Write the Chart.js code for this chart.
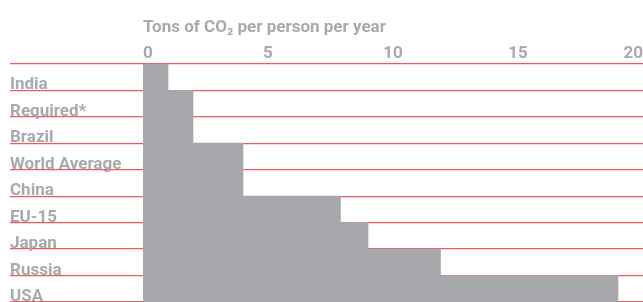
<!DOCTYPE html>
<html>
<head>
<meta charset="utf-8">
<script src="https://cdn.jsdelivr.net/npm/chart.js@4"></script>
<style>
  html, body { margin: 0; padding: 0; background: #fff; }
  #wrap { width: 643px; height: 302px; }
</style>
</head>
<body>
<div id="wrap"><canvas id="chartCO2"></canvas></div>
<script>
// ─────────────────────────────────────────────────────────────────────────────
// DATOS
// ─────────────────────────────────────────────────────────────────────────────
const paises    = ['India', 'Required*', 'Brazil', 'World Average', 'China', 'EU-15', 'Japan', 'Russia', 'USA'];
const toneladas = [1.0, 2.0, 2.0, 4.0, 4.0, 7.9, 9.0, 11.9, 19.0];
const ticksX    = [0, 5, 10, 15, 20];
const tituloX   = 'Tons of CO\u2082 per person per year';

const GRIS   = '#a7a9ac';
const ROJO   = '#ef5b60';
const FUENTE = { family: 'Roboto, "Liberation Sans", sans-serif', size: 17, weight: 'bold' };

// ─────────────────────────────────────────────────────────────────────────────
// GRÁFICO
// ─────────────────────────────────────────────────────────────────────────────
const ctx = document.getElementById('chartCO2').getContext('2d');

new Chart(ctx, {
    type: 'bar',
    data: {
        labels: paises,
        datasets: [{
            data: toneladas,
            backgroundColor: '#a7a8ab',
            borderWidth: 0,
            barPercentage: 1,
            categoryPercentage: 1
        }]
    },
    options: {
        indexAxis: 'y',
        responsive: true,
        maintainAspectRatio: false,
        animation: false,
        layout: { padding: { left: 10, top: 18, right: 0, bottom: 0 } },
        plugins: {
            legend: { display: false },
            tooltip: { enabled: false }
        },
        scales: {
            x: {
                position: 'top',
                min: ticksX[0],
                max: ticksX[ticksX.length - 1],
                afterBuildTicks: function (scale) {
                    scale.ticks = ticksX.map(function (v) { return { value: v }; });
                },
                afterFit: function (scale) {
                    scale.paddingLeft = 0;
                    scale.paddingRight = 0;
                },
                grid: { display: false, drawTicks: false },
                border: { display: false },
                ticks: {
                    color: GRIS,
                    font: FUENTE,
                    align: 'inner',
                    padding: 0
                },
                title: {
                    display: true,
                    text: tituloX,
                    align: 'start',
                    color: GRIS,
                    font: FUENTE,
                    padding: { top: 0, bottom: 5 }
                }
            },
            y: {
                z: 1,                       // líneas rojas por encima de las barras
                afterFit: function (scale) {
                    scale.width = 133;
                    scale.paddingTop = 0;
                    scale.paddingBottom = 0;
                },
                grid: {
                    offset: true,
                    color: ROJO,
                    lineWidth: 1.2,
                    drawTicks: true,
                    tickLength: 133,
                    tickColor: ROJO,
                    tickWidth: 1.2
                },
                border: { display: false },
                ticks: {
                    color: GRIS,
                    font: FUENTE,
                    crossAlign: 'far',
                    labelOffset: 8,
                    padding: 0,
                    autoSkip: false
                }
            }
        }
    }
});
</script>
</body>
</html>
